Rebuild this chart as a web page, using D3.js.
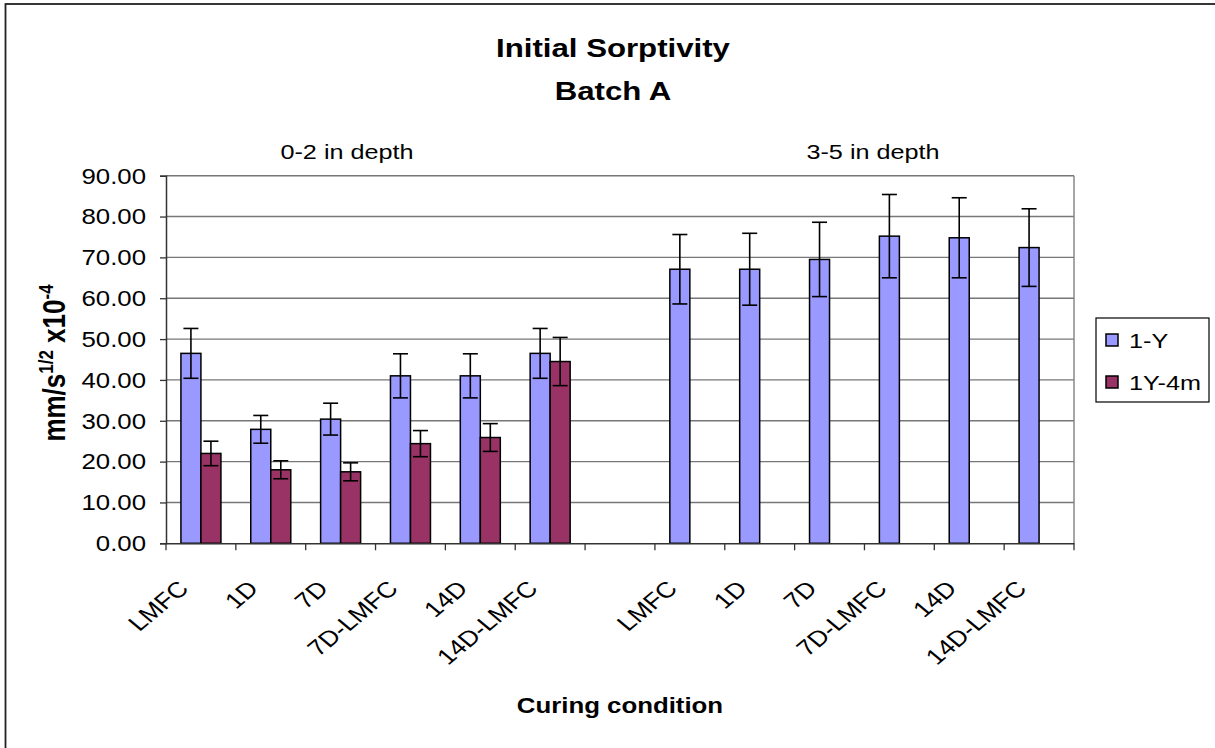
<!DOCTYPE html>
<html>
<head>
<meta charset="utf-8">
<script src="https://cdn.jsdelivr.net/npm/d3@7"></script>
<style>
  html, body { margin: 0; padding: 0; background: #fff; }
  svg { display: block; font-family: "Liberation Sans", Arial, sans-serif; }
</style>
</head>
<body>
<svg id="chart" width="1215" height="748"></svg>
<script>
// Curing conditions: two depth groups separated by an empty slot
const categories = ["LMFC", "1D", "7D", "7D-LMFC", "14D", "14D-LMFC", "",
                    "LMFC", "1D", "7D", "7D-LMFC", "14D", "14D-LMFC"];
const seriesNames = ["1-Y", "1Y-4m"];
const values1Y   = [46.5, 27.9, 30.4, 41.0, 41.0, 46.5, null, 67.1, 67.1, 69.5, 75.2, 74.8, 72.4];
const errors1Y   = [6.1, 3.4, 3.9, 5.4, 5.4, 6.1, null, 8.5, 8.8, 9.1, 10.2, 9.8, 9.5];
const values1Y4m = [22.0, 18.0, 17.5, 24.4, 25.9, 44.5, null, null, null, null, null, null, null];
const errors1Y4m = [3.0, 2.2, 2.2, 3.2, 3.4, 5.9, null, null, null, null, null, null, null];
const yTicks = [0, 10, 20, 30, 40, 50, 60, 70, 80, 90];
const groupLabels = ["0-2 in depth", "3-5 in depth"];

const colors = { "1-Y": "#9999FF", "1Y-4m": "#993366" };
const SX = 1.2; // horizontal text stretch

const svg = d3.select("#chart");

// outer frame
svg.append("rect").attr("x", 5.5).attr("y", 4).attr("width", 1230).attr("height", 760)
  .attr("fill", "none").attr("stroke", "#222").attr("stroke-width", 1.8);

const plot = { left: 166, right: 1074, top: 175.7, bottom: 543.3 };

const x = d3.scaleBand().domain(d3.range(categories.length))
  .range([plot.left, plot.right]).paddingInner(0).paddingOuter(0);
const xs = d3.scaleBand().domain(seriesNames).range([0, x.bandwidth()])
  .paddingInner(0).paddingOuter(0.746);
const y = d3.scaleLinear().domain([0, 90]).range([plot.bottom, plot.top]);

function stretchedText(g, tx, ty, str, extra) {
  return g.append("text")
    .attr("transform", `translate(${tx},${ty}) scale(${SX},1)` + (extra || ""))
    .text(str);
}

// gridlines
svg.append("g").selectAll("line").data(yTicks.filter(d => d > 0)).join("line")
  .attr("x1", plot.left).attr("x2", plot.right)
  .attr("y1", d => y(d)).attr("y2", d => y(d))
  .attr("stroke", "#777").attr("stroke-width", 1.4);

// right plot border
svg.append("line").attr("x1", plot.right).attr("x2", plot.right)
  .attr("y1", plot.top).attr("y2", plot.bottom)
  .attr("stroke", "#808080").attr("stroke-width", 1.4);

// bars
const rows = [
  { name: "1-Y", vals: values1Y, errs: errors1Y },
  { name: "1Y-4m", vals: values1Y4m, errs: errors1Y4m }
];
const barsG = svg.append("g");
rows.forEach(r => {
  const data = r.vals.map((v, i) => ({ i, v, e: r.errs[i] })).filter(d => d.v != null);
  barsG.append("g").selectAll("rect").data(data).join("rect")
    .attr("x", d => x(d.i) + xs(r.name))
    .attr("y", d => y(d.v))
    .attr("width", xs.bandwidth())
    .attr("height", d => y(0) - y(d.v))
    .attr("fill", colors[r.name]).attr("stroke", "#000").attr("stroke-width", 1.5);
});

// error bars
rows.forEach(r => {
  const data = r.vals.map((v, i) => ({ i, v, e: r.errs[i] })).filter(d => d.v != null);
  const eg = svg.append("g").attr("stroke", "#000").attr("stroke-width", 1.6);
  data.forEach(d => {
    const cx = x(d.i) + xs(r.name) + xs.bandwidth() / 2;
    eg.append("line").attr("x1", cx).attr("x2", cx).attr("y1", y(d.v + d.e)).attr("y2", y(d.v - d.e));
    [d.v + d.e, d.v - d.e].forEach(t => {
      eg.append("line").attr("x1", cx - 7.5).attr("x2", cx + 7.5).attr("y1", y(t)).attr("y2", y(t));
    });
  });
});

// y axis
const yAxis = d3.axisLeft(y).tickValues(yTicks).tickFormat(d3.format(".2f")).tickSize(6).tickPadding(14);
const yg = svg.append("g").attr("transform", `translate(${plot.left},0)`).call(yAxis);
yg.select(".domain").attr("stroke", "#333").attr("stroke-width", 1.5);
yg.selectAll(".tick line").attr("stroke", "#333").attr("stroke-width", 1.3);
yg.selectAll(".tick text").remove();
yTicks.forEach(t => {
  stretchedText(svg, plot.left - 20, y(t) + 7.8, d3.format(".2f")(t))
    .attr("text-anchor", "end").attr("font-size", 21.5).attr("fill", "#000");
});

// x axis
const xAxis = d3.axisBottom(x).tickSize(0).tickFormat("");
const xg = svg.append("g").attr("transform", `translate(0,${plot.bottom})`).call(xAxis);
xg.select(".domain").attr("stroke", "#333").attr("stroke-width", 1.5);
xg.selectAll(".tick").remove();
const boundaries = d3.range(categories.length + 1).map(i => plot.left + i * x.step());
svg.append("g").selectAll("line").data(boundaries).join("line")
  .attr("x1", d => d).attr("x2", d => d)
  .attr("y1", plot.bottom).attr("y2", plot.bottom + 7)
  .attr("stroke", "#333").attr("stroke-width", 1.3);

categories.forEach((c, i) => {
  if (!c) return;
  stretchedText(svg, x(i) + x.bandwidth() / 2 - 11, 590, c, " rotate(-45)")
    .attr("text-anchor", "end").attr("font-size", 22).attr("fill", "#000");
});

// titles
stretchedText(svg, 613, 57, "Initial Sorptivity")
  .attr("text-anchor", "middle").attr("font-size", 26).attr("font-weight", "bold");
stretchedText(svg, 613, 100, "Batch A")
  .attr("text-anchor", "middle").attr("font-size", 26).attr("font-weight", "bold");

stretchedText(svg, 347, 159, groupLabels[0]).attr("text-anchor", "middle").attr("font-size", 21);
stretchedText(svg, 873, 159, groupLabels[1]).attr("text-anchor", "middle").attr("font-size", 21);

stretchedText(svg, 620, 713, "Curing condition")
  .attr("text-anchor", "middle").attr("font-size", 21.5).attr("font-weight", "bold");

// y axis title with superscripts
const yt = svg.append("text")
  .attr("transform", `translate(65,363) scale(${SX},1) rotate(-90)`)
  .attr("text-anchor", "middle").attr("font-size", 26).attr("font-weight", "bold");
yt.append("tspan").text("mm/s");
yt.append("tspan").attr("font-size", 17).attr("dy", -10).text("1/2");
yt.append("tspan").attr("dy", 10).text(" x10");
yt.append("tspan").attr("font-size", 17).attr("dy", -10).text("-4");

// legend
const lg = svg.append("g");
lg.append("rect").attr("x", 1096).attr("y", 318).attr("width", 113).attr("height", 84)
  .attr("fill", "#fff").attr("stroke", "#000").attr("stroke-width", 1.2);
seriesNames.forEach((s, k) => {
  const cy = 340 + k * 42;
  lg.append("rect").attr("x", 1106).attr("y", cy - 6).attr("width", 12).attr("height", 12)
    .attr("fill", colors[s]).attr("stroke", "#000").attr("stroke-width", 1.5);
  stretchedText(lg, 1129, cy + 7.5, s).attr("font-size", 21);
});
</script>
</body>
</html>
